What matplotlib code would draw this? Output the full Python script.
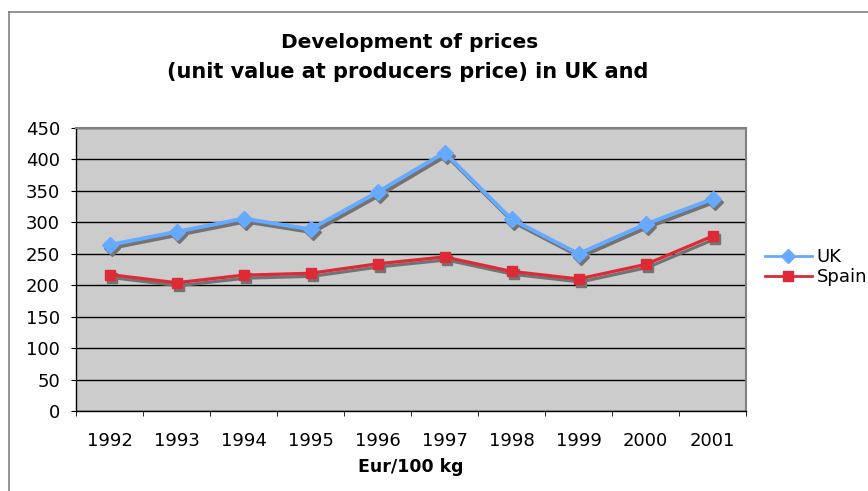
import numpy as np
import matplotlib
matplotlib.use('Agg')
import matplotlib.pyplot as plt
import matplotlib.transforms as mtransforms
from matplotlib.lines import Line2D

years = ['1992', '1993', '1994', '1995', '1996',
         '1997', '1998', '1999', '2000', '2001']
uk = [264, 285, 306, 289, 348, 411, 305, 250, 297, 337]
spain = [217, 204, 216, 219, 234, 245, 222, 210, 233, 278]
yticks = [0, 50, 100, 150, 200, 250, 300, 350, 400, 450]

UK_COL = '#66aaff'
ES_COL = '#dd2a36'
SHADOW = '#737373'

W, H = 868, 491
fig = plt.figure(figsize=(W / 100, H / 100), dpi=100)
ax = fig.add_axes([76 / W, 1 - 411 / H, 670 / W, 283 / H])

# outer chart frame (cut off at right and bottom)
fig.add_artist(Line2D([8.5 / W, 8.5 / W], [0, 1 - 12 / H],
                      color='#808080', lw=1.2, transform=fig.transFigure))
fig.add_artist(Line2D([8.5 / W, 1], [1 - 12 / H, 1 - 12 / H],
                      color='#808080', lw=1.2, transform=fig.transFigure))

ax.set_facecolor('#cccccc')
x = np.arange(len(years))

# drop shadows, drawn as offset copies of the series
shadow_tr = mtransforms.offset_copy(ax.transData, fig=fig, x=2, y=-3,
                                    units='dots')
ax.plot(x, uk, color=SHADOW, lw=2.8, marker='D', ms=8.5,
        markeredgecolor=SHADOW, transform=shadow_tr, zorder=2)
ax.plot(x, spain, color=SHADOW, lw=2.3, marker='s', ms=7.5,
        markeredgecolor=SHADOW, transform=shadow_tr, zorder=2)

ax.plot(x, uk, color=UK_COL, lw=2.8, marker='D', ms=8.5,
        markeredgecolor=UK_COL, zorder=4)
ax.plot(x, spain, color=ES_COL, lw=2.3, marker='s', ms=7.5,
        markeredgecolor=ES_COL, zorder=3)

ax.set_xlim(-0.5, len(years) - 0.5)
ax.set_ylim(0, 450)
ax.set_yticks(yticks)
ax.set_xticks(x)
ax.set_xticklabels(years)
ax.set_xticks(np.arange(-0.5, len(years), 1), minor=True)
ax.tick_params(axis='x', which='major', length=0, pad=15, labelsize=13)
ax.tick_params(axis='x', which='minor', length=3.6, direction='out',
               color='black')
ax.tick_params(axis='y', length=3.6, direction='out', pad=8, labelsize=13)
ax.yaxis.grid(True, color='black', lw=1)
ax.set_axisbelow(True)

for side in ['top', 'right']:
    ax.spines[side].set_color('#808080')
    ax.spines[side].set_linewidth(1.5)
for side in ['left', 'bottom']:
    ax.spines[side].set_color('black')
    ax.spines[side].set_linewidth(1)

fig.text(410 / W, 1 - 43 / H, 'Development of prices',
         ha='center', va='center', fontsize=14.5, fontweight='bold')
fig.text(408 / W, 1 - 72 / H, '(unit value at producers price) in UK and',
         ha='center', va='center', fontsize=15, fontweight='bold')
fig.text(411 / W, 1 - 467 / H, 'Eur/100 kg',
         ha='center', va='center', fontsize=12.5, fontweight='bold')

handles = [
    Line2D([], [], color=UK_COL, lw=2, marker='D', ms=7.5,
           markeredgecolor=UK_COL),
    Line2D([], [], color=ES_COL, lw=2, marker='s', ms=6.5,
           markeredgecolor=ES_COL),
]
ax.legend(handles, ['UK', 'Spain'], loc='center left',
          bbox_to_anchor=(765 / W, 1 - 267 / H),
          bbox_transform=fig.transFigure, frameon=False, fontsize=13,
          handlelength=2.6, handletextpad=0.25, labelspacing=0.1,
          borderaxespad=0, borderpad=0)

fig.savefig('out.png', dpi=100)
plt.close('all')
